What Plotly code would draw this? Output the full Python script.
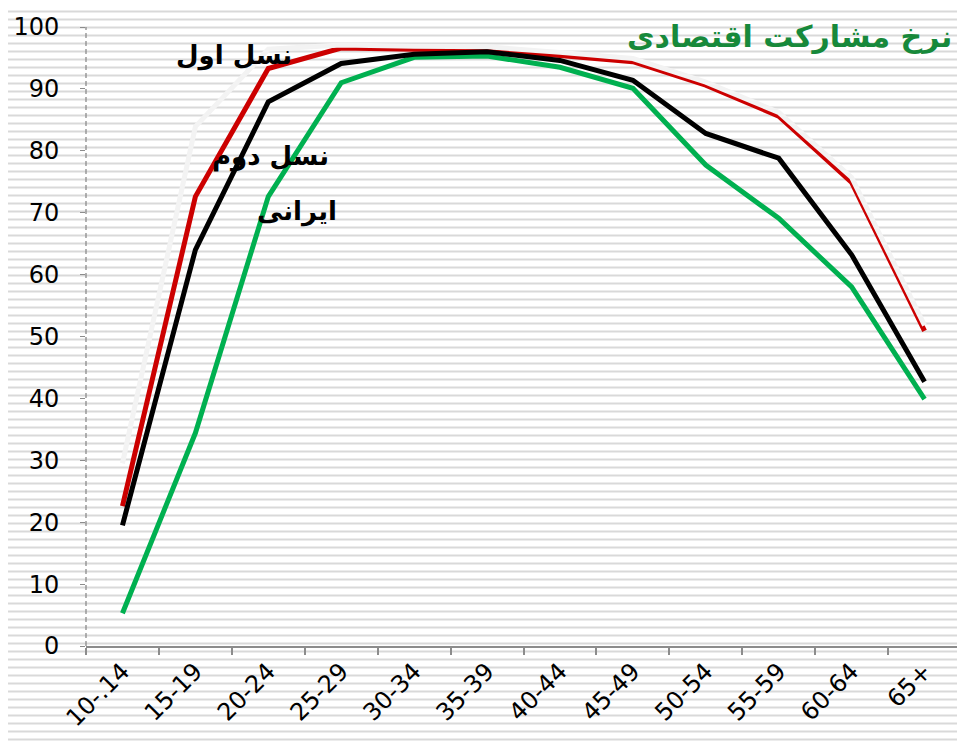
import plotly.graph_objects as go

# ---- data ----
categories = ["10-.14", "15-19", "20-24", "25-29", "30-34", "35-39",
              "40-44", "45-49", "50-54", "55-59", "60-64", "65+"]
first_gen = [22.6, 72.6, 93.3, 96.6, 96.4, 96.3, 95.4, 94.4, 90.6, 85.6, 74.9, 50.9]
second_gen = [19.5, 64.0, 87.9, 94.1, 95.6, 96.0, 94.6, 91.4, 82.8, 78.8, 63.2, 42.7]
iranian = [5.3, 34.4, 72.6, 91.0, 95.1, 95.3, 93.5, 90.1, 77.7, 69.1, 58.0, 39.9]
white_band = [29.5, 83.9, 96.4, 97.1, 96.9, 96.8, 95.9, 94.9, 91.1, 86.2, 75.7, 51.8]
y_ticks = list(range(0, 101, 10))

title_text = "نرخ مشارکت اقتصادی"
label_first = "نسل اول"
label_second = "نسل دوم"
label_iranian = "ایرانی"

# ---- geometry ----
# the page body has an 8px margin, so the figure is sized to fill the window
OFF = 8
PAGE_W, PAGE_H = 965, 743
W, H = PAGE_W - OFF, PAGE_H - OFF
# plot area in page pixels: x 86..961, y 27..646
ML = 86 - OFF
MT = 27 - OFF
MR = W - (961 - OFF)
MB = H - (646 - OFF)
PW, PH = W - ML - MR, H - MT - MB


def px_x(x_page):
    return (x_page - OFF - ML) / PW


def px_y(y_page):
    return (H - MB - (y_page - OFF)) / PH


fig = go.Figure()
fig.add_trace(go.Scatter(x=categories, y=iranian, mode="lines",
                         line=dict(color="#00b050", width=5), name="iranian"))
fig.add_trace(go.Scatter(x=categories, y=first_gen, mode="lines",
                         line=dict(color="#cc0000", width=5), name="first"))
fig.add_trace(go.Scatter(x=categories, y=white_band, mode="lines",
                         line=dict(color="#f3f3f3", width=5), name="white"))
fig.add_trace(go.Scatter(x=categories, y=second_gen, mode="lines",
                         line=dict(color="#000000", width=5), name="second"))

# background stripes over whole picture
shapes = []
y = 11.5
while y < PAGE_H:
    shapes.append(dict(type="line", xref="paper", yref="paper",
                       x0=px_x(0), x1=px_x(PAGE_W + 5), y0=px_y(y), y1=px_y(y),
                       line=dict(color="#d9d9d9", width=2), layer="below"))
    y += 8.0
# dashed y axis line
shapes.append(dict(type="line", xref="paper", yref="paper", x0=0, x1=0, y0=0, y1=1,
                   line=dict(color="#8c8c8c", width=1.3, dash="5px,3px"), layer="above"))

annotations = [
    dict(text="<b>" + title_text + "</b>", xref="paper", yref="paper", x=px_x(625), y=px_y(37),
         xanchor="left", yanchor="middle", showarrow=False,
         font=dict(family="DejaVu Sans", size=30, color="#17893b")),
    dict(text="<b>" + label_first + "</b>", xref="paper", yref="paper", x=px_x(294), y=px_y(56),
         xanchor="right", yanchor="middle", showarrow=False,
         font=dict(family="DejaVu Sans", size=26, color="#000000")),
    dict(text="<b>" + label_second + "</b>", xref="paper", yref="paper", x=px_x(331), y=px_y(156),
         xanchor="right", yanchor="middle", showarrow=False,
         font=dict(family="DejaVu Sans", size=26, color="#000000")),
    dict(text="<b>" + label_iranian + "</b>", xref="paper", yref="paper", x=px_x(339), y=px_y(211),
         xanchor="right", yanchor="middle", showarrow=False,
         font=dict(family="DejaVu Sans", size=26, color="#000000")),
]

fig.update_layout(
    width=W, height=H,
    margin=dict(l=ML, r=MR, t=MT, b=MB, pad=0, autoexpand=False),
    paper_bgcolor="#ffffff", plot_bgcolor="rgba(0,0,0,0)",
    showlegend=False,
    shapes=shapes, annotations=annotations,
    font=dict(family="DejaVu Sans", size=24, color="#000000"),
)
fig.update_xaxes(type="category", categoryorder="array", categoryarray=categories,
                 range=[-0.5, len(categories) - 0.5], automargin=False,
                 showgrid=False, zeroline=False,
                 showline=True, linecolor="#8c8c8c", linewidth=1.5,
                 ticks="outside", ticklen=7, tickcolor="#8c8c8c", tickwidth=1.5,
                 tickson="boundaries", tickangle=-45,
                 tickfont=dict(family="DejaVu Sans", size=24, color="#000000"))
fig.update_yaxes(range=[0, 100], tickvals=y_ticks, showgrid=False, zeroline=False,
                 automargin=False,
                 showline=False, ticks="outside", ticklen=5, tickcolor="#8c8c8c",
                 ticklabelstandoff=16,
                 tickfont=dict(family="DejaVu Sans", size=24, color="#000000"))

fig.write_html("out.html")
